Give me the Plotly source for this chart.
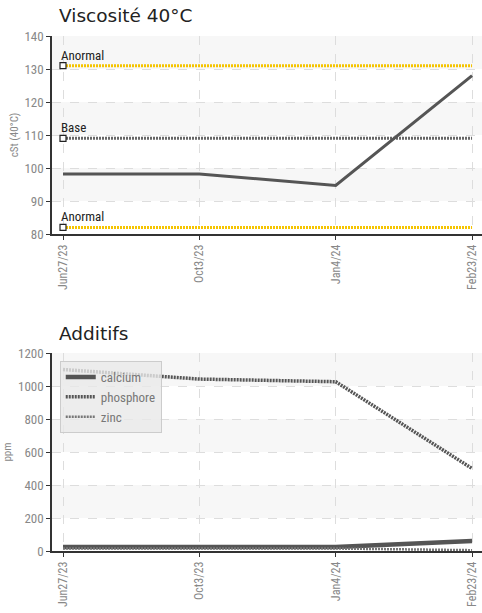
import plotly.graph_objects as go

dates = ["Jun27/23", "Oct3/23", "Jan4/24", "Feb23/24"]

visc = [98.2, 98.2, 94.7, 128.0]
visc_ticks = [80, 90, 100, 110, 120, 130, 140]
limits = [("Anormal", 131, "#f5c400"), ("Base", 109, "#666666"), ("Anormal", 82, "#f5c400")]

calcium = [24, 24, 24, 60]
phosphore = [1100, 1042, 1026, 500]
zinc = [15, 15, 15, 5]
add_ticks = [0, 200, 400, 600, 800, 1000, 1200]

W, H = 482, 613
L = 52
top_dom = [1 - 234 / H, 1 - 36 / H]
bot_dom = [1 - 551 / H, 1 - 353 / H]
xr = [-0.0807, 3.073]

FONT = "Roboto Condensed, Liberation Sans Narrow, Roboto, sans-serif"
tickfont = dict(family=FONT, size=13, color="#888888")
xtickfont = dict(family=FONT, size=12, color="#888888")
DOTS = "2px,1px"

fig = go.Figure()

# reference lines (top chart)
for name, val, col in limits:
    fig.add_trace(go.Scatter(
        x=dates, y=[val] * len(dates), mode="lines", xaxis="x", yaxis="y",
        line=dict(color=col, width=3, dash=DOTS), showlegend=False, hoverinfo="skip"))
    fig.add_trace(go.Scatter(
        x=[dates[0]], y=[val], mode="markers", xaxis="x", yaxis="y",
        marker=dict(symbol="square", size=6, color="white", line=dict(color="#222", width=1.2)),
        showlegend=False, hoverinfo="skip"))
    fig.add_annotation(x=dates[0], y=val, xref="x", yref="y", text=name, showarrow=False,
                       xanchor="left", yanchor="bottom", xshift=-4, yshift=1,
                       font=dict(family=FONT, size=13, color="#222"))

fig.add_trace(go.Scatter(x=dates, y=visc, mode="lines", xaxis="x", yaxis="y",
                         line=dict(color="#555555", width=3), showlegend=False, name="Viscosité"))

# additifs
fig.add_trace(go.Scatter(x=dates, y=calcium, mode="lines", xaxis="x2", yaxis="y2", name="calcium",
                         line=dict(color="#555555", width=4.5)))
fig.add_trace(go.Scatter(x=dates, y=phosphore, mode="lines", xaxis="x2", yaxis="y2", name="phosphore",
                         line=dict(color="#555555", width=3.5, dash=DOTS)))
fig.add_trace(go.Scatter(x=dates, y=zinc, mode="lines", xaxis="x2", yaxis="y2", name="zinc",
                         line=dict(color="#777777", width=2.5, dash=DOTS)))

# alternating bands
shapes = []
for yref, ticks in (("y", visc_ticks), ("y2", add_ticks)):
    for i in range(1, len(ticks) - 1, 2):
        shapes.append(dict(type="rect", xref=("x" if yref == "y" else "x2") + " domain", yref=yref,
                           x0=0, x1=1, y0=ticks[i], y1=ticks[i + 1],
                           fillcolor="#f7f7f7", line=dict(width=0), layer="below"))

axis_common = dict(showline=True, linecolor="#333333", linewidth=1.5, ticks="outside", ticklen=4,
                   tickcolor="#333333", showgrid=True, gridcolor="#dddddd",
                   griddash="dash", gridwidth=1, zeroline=False, automargin=False)

ytitle_font = dict(family=FONT, size=11, color="#888")

fig.update_layout(
    width=W, height=H, margin=dict(l=L, r=0, t=0, b=0, autoexpand=False),
    plot_bgcolor="white", paper_bgcolor="white", shapes=shapes,
    xaxis=dict(domain=[0, 1], anchor="y", type="category", range=xr, tickangle=-90,
               tickfont=xtickfont, **axis_common),
    yaxis=dict(domain=top_dom, anchor="x", range=[80, 140], tickvals=visc_ticks, tickfont=tickfont,
               title=dict(text="cSt (40°C)", font=ytitle_font, standoff=4),
               **axis_common),
    xaxis2=dict(domain=[0, 1], anchor="y2", type="category", range=xr, tickangle=-90,
                tickfont=xtickfont, **axis_common),
    yaxis2=dict(domain=bot_dom, anchor="x2", range=[0, 1200], tickvals=add_ticks, tickfont=tickfont,
                title=dict(text="ppm", font=ytitle_font, standoff=4),
                **axis_common),
    legend=dict(x=0.018, y=1 - 361 / H, xanchor="left", yanchor="top",
                bgcolor="rgba(232,232,232,0.8)", bordercolor="#cccccc", borderwidth=1,
                font=dict(family=FONT, size=13, color="#777"),
                tracegroupgap=0, itemwidth=30),
    showlegend=True,
)

title_font = dict(family="DejaVu Sans, Verdana, sans-serif", size=18.5, color="#222")
fig.add_annotation(text="Viscosité 40°C", xref="paper", yref="paper", x=5 / 430, y=1 - 15 / H,
                   xanchor="left", yanchor="middle", showarrow=False, font=title_font)
fig.add_annotation(text="Additifs", xref="paper", yref="paper", x=5 / 430, y=1 - 333 / H,
                   xanchor="left", yanchor="middle", showarrow=False, font=title_font)

fig.write_html("out.html", config={"displayModeBar": False},
               post_script="document.body.style.margin='0';document.body.style.overflow='hidden';")
